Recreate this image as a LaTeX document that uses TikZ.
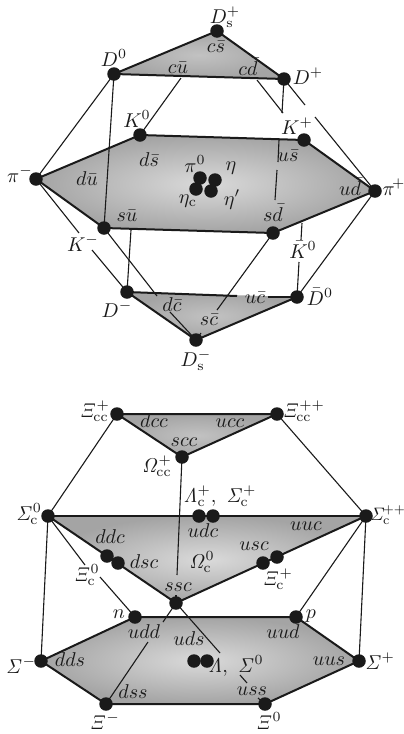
\documentclass[tikz,border=0pt]{standalone}
\usetikzlibrary{positioning}
\definecolor{cdark}{HTML}{1A1A1A}
\definecolor{cedge}{HTML}{A4A4A4}
\definecolor{cmid}{HTML}{DADADA}
\definecolor{ctri}{HTML}{C2C2C2}
\tikzset{
  every picture/.style={x=1pt, y=-1pt, line width=1.1pt, color=cdark},
  dot/.style={circle, fill=cdark, draw=none, minimum size=13.5pt, inner sep=0pt},
  lab/.style={scale=2, inner sep=0pt, anchor=base, text=cdark},
  hexa/.style={inner color=cmid, outer color=cedge, draw=none},
  tria/.style={inner color=ctri, outer color=cedge, draw=none},
  rim/.style={line width=2pt},
}
\newcommand{\ital}[1]{\mathit{#1}}
\begin{document}
\begin{tikzpicture}
  \useasboundingbox (0,0) rectangle (404,734);
  % mesons
  \foreach \n/\x/\y in {dsp/217/31, dz/114/74, dp/284/79, kz/140/135, kp/304/140, pim/36/179, pip/375/191,
                        su/104/228, sd/273/233, dm/127/292, dzb/297/297, dsm/196/340, pa/200/178, pb/215/180, pc/196/189, pd/211/191}
    \coordinate (\n) at (\x,\y);
  \shade[hexa] (pim) -- (kz) -- (kp) -- (pip) -- (sd) -- (su) -- cycle;
  \shade[tria] (dz) -- (dsp) -- (dp) -- cycle;
  \shade[tria] (dm) -- (dzb) -- (dsm) -- cycle;
  \draw[rim] (pim) -- (kz) -- (kp) -- (pip) -- (sd) -- (su) -- cycle;
  \draw[rim] (dz) -- (dsp) -- (dp) -- cycle;
  \draw[rim] (dsm) -- (dm);
  \draw[rim] (dsm) -- (dzb);
  \foreach \n/\x/\y in {a1/237/296, a2/268/297, b1/181/78, b2/257/80, b3/283/113, c1/305/105, c2/315/117, c3/275/200,
                        c4/282/113, c5/279/140, c6/278/162, c7/277/170,
                        e1/79/233, e2/92/250, f1/157/296, f2/170/312, g1/131/230, h1/217/310, h2/201/333,
                        i1/302/223, i2/301/240, i3/299/262}
    \coordinate (\n) at (\x,\y);
  \draw[rim] (dm) -- (a1);
  \draw[rim] (a2) -- (dzb);
  \draw (dz) -- (pim);
  \draw (dz) -- (su);
  \draw (dp) -- (c4);
  \draw (c5) -- (c6);
  \draw (c7) -- (c3);
  \draw (b1) -- (kz);
  \draw (b2) -- (b3);
  \draw (dp) -- (c1);
  \draw (c2) -- (pip);
  \draw (pim) -- (e1);
  \draw (e2) -- (dm);
  \draw (su) -- (f1);
  \draw (f2) -- (dsm);
  \draw (g1) -- (dm);
  \draw (sd) -- (h1);
  \draw (h2) -- (dsm);
  \draw (i1) -- (i2);
  \draw (i3) -- (dzb);
  \draw (pip) -- (dzb);
  \foreach \n in {dsp,dz,dp,kz,kp,pim,pip,su,sd,dm,dzb,dsm,pa,pb,pc,pd}
    \node[dot] at (\n) {};
  \foreach \n/\x/\y/\t in {l1/225/23/D_{\mathrm{s}}^{+}, l2/216/52/c\bar{s}, l3/114/66/D^{0}, l4/178/73/c\bar{u}, l5/248/75/c\bar{d},
                           l6/308/84/D^{+}, l7/137/127/K^{0}, l8/297/134/K^{+}, l9/149/166/d\bar{s}, l10/288/161/u\bar{s},
                           l11/195/172/\pi^{0}, l12/231/170/\eta, l13/20/182/\pi^{-}, l14/87/185/d\bar{u}, l15/188/203/\eta_{\mathrm{c}},
                           l16/232/205/\eta', l17/350/195/u\bar{d}, l18/394/195/\pi^{\!+}, l19/127/221/s\bar{u}, l20/273/221/s\bar{d},
                           l21/83/251/K^{-}, l22/303/258/\bar{K}^{0}, l23/117/317/D^{-}, l24/172/311/d\bar{c}, l25/255/303/u\bar{c},
                           l26/320/305/\bar{D}^{0}, l27/209/325/s\bar{c}, l28/196/366/D_{\mathrm{s}}^{-}}
    \node[lab] (\n) at (\x,\y) {$\t$};
  % baryons
  \foreach \n/\x/\y in {xa/117/414, xb/277/414, oc/182/457, sz/48/516, spp/366/516, ssc/176/603, nn/135/617, pp/296/617,
                        sm/41/661, spl/359/661, xm/106/704, xz/265/704, ddc/107/556, dsc/118/563, usa/263/563, usb/277/557,
                        la/199/516, lb/213/516, ca/194/661, cb/207/661}
    \coordinate (\n) at (\x,\y);
  \shade[tria] (xa) -- (xb) -- (oc) -- cycle;
  \shade[hexa] (sz) -- (spp) -- (ssc) -- cycle;
  \shade[hexa] (nn) -- (pp) -- (spl) -- (xz) -- (xm) -- (sm) -- cycle;
  \draw[rim] (xa) -- (xb) -- (oc) -- cycle;
  \draw[rim] (sz) -- (ssc) -- (spp);
  \draw (sz) -- (spp);
  \draw[rim] (nn) -- (pp) -- (spl) -- (xz) -- (xm) -- (sm) -- cycle;
  \foreach \n/\x/\y in {j1/85/565, j2/100/577, m1/177/575, m2/176/595, q1/163/622, q2/148/642, r1/220/653, r2/240/675, r3/247/683, r4/258/698}
    \coordinate (\n) at (\x,\y);
  \draw (xa) -- (sz);
  \draw (xb) -- (spp);
  \draw (oc) -- (m1);
  \draw (m2) -- (ssc);
  \draw (sz) -- (sm);
  \draw (spp) -- (spl);
  \draw (sz) -- (j1);
  \draw (j2) -- (nn);
  \draw (spp) -- (pp);
  \draw (ssc) -- (q1);
  \draw (q2) -- (xm);
  \draw (ssc) -- (r1);
  \draw (r2) -- (r3);
  \draw (r4) -- (xz);
  \foreach \n in {xa,xb,oc,sz,spp,ssc,nn,pp,sm,spl,xm,xz,ddc,dsc,usa,usb,la,lb,ca,cb}
    \node[dot] at (\n) {};
  \foreach \n/\x/\y/\t in {n1/95/417/\ital{\Xi}_{\mathrm{cc}}^{+}, n2/304/417/\ital{\Xi}_{\mathrm{cc}}^{++}, n3/154/427/dcc, n4/230/427/ucc,
                           n5/184/446/scc, n6/157/472/\ital{\Omega}_{\mathrm{cc}}^{+}, n8/29/520/\ital{\Sigma}_{\mathrm{c}}^{0},
                           n10/203/537/udc, n11/306/530/uuc, n12/110/543/ddc, n13/254/550/usc, n14/144/568/dsc, n15/202/568/\ital{\Omega}_{\mathrm{c}}^{0},
                           n16/87/581/\ital{\Xi}_{\mathrm{c}}^{0}, n17/278/585/\ital{\Xi}_{\mathrm{c}}^{+}, n18/178/591/ssc, n19/119/618/n, n20/311/618/p,
                           n21/144/638/udd, n22/283/638/uud, n23/189/645/uds, n25/70/666/dds, n26/329/665/uus, n27/21/673/\ital{\Sigma}^{-},
                           n28/380/669/\ital{\Sigma}^{+}, n29/133/698/dss, n30/252/695/uss, n31/105/729/\ital{\Xi}^{-}, n32/269/729/\ital{\Xi}^{0}}
    \node[lab] (\n) at (\x,\y) {$\t$};
  \node[lab] (n7) at (220,502) {$\ital{\Lambda}_{\mathrm{c}}^{+},\ \ital{\Sigma}_{\mathrm{c}}^{+}$};
  \node[lab, scale=0.9] (n9) at (388,520) {$\ital{\Sigma}_{\mathrm{c}}^{\!++}$};
  \node[lab] (n24) at (236,672) {$\ital{\Lambda},\ \ital{\Sigma}^{0}$};
\end{tikzpicture}
\end{document}
